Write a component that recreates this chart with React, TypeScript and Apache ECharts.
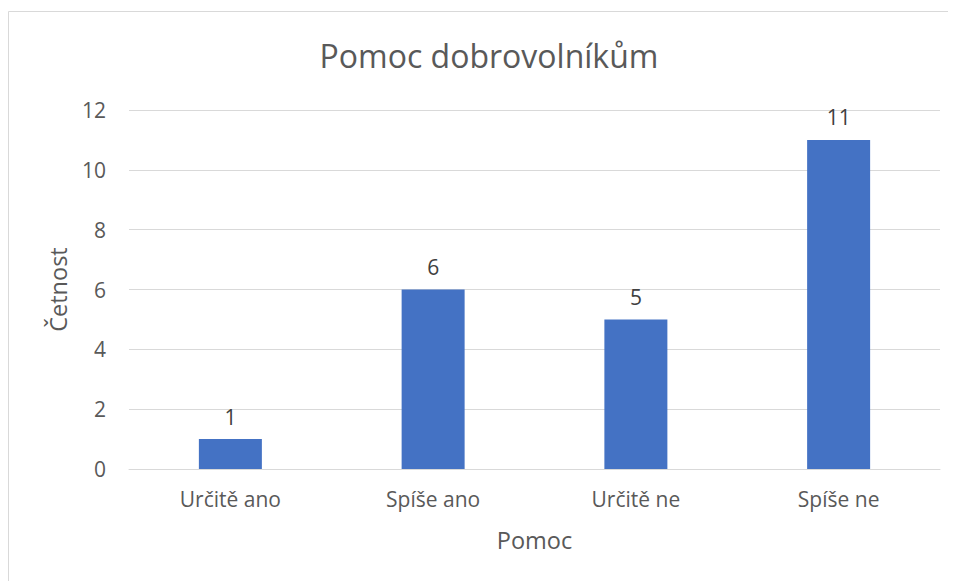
import React, { useEffect, useRef } from "react";
import * as echarts from "echarts";

const categories = ["Určitě ano", "Spíše ano", "Určitě ne", "Spíše ne"];
const values = [1, 6, 5, 11];
const titleText = "Pomoc dobrovolníkům";
const xName = "Pomoc";
const yName = "Četnost";

const FONT = "Open Sans";

export default function App() {
  const ref = useRef<HTMLDivElement>(null);
  useEffect(() => {
    if (!ref.current) return;
    const chart = echarts.init(ref.current, null, { renderer: "svg" });
    chart.setOption({
      animation: false,
      backgroundColor: "#ffffff",
      textStyle: { fontFamily: FONT },
      title: {
        text: titleText,
        left: 476,
        top: 26,
        textAlign: "center",
        textStyle: { fontFamily: FONT, fontSize: 32, fontWeight: "normal", color: "#595959" },
      },
      graphic: [
        {
          type: "rect",
          shape: { x: 0.5, y: 3.5, width: 1200, height: 1200 },
          style: { fill: "none", stroke: "#d9d9d9", lineWidth: 1 },
          silent: true,
        },
      ],
      grid: { left: 121, right: 16, top: 102, bottom: 112, containLabel: false },
      xAxis: {
        type: "category",
        data: categories,
        name: xName,
        nameLocation: "middle",
        nameGap: 59,
        nameTextStyle: { fontFamily: FONT, fontSize: 23.5, color: "#595959" },
        axisLine: { show: true, lineStyle: { color: "#d9d9d9", width: 1 } },
        axisTick: { show: false },
        axisLabel: { fontFamily: FONT, fontSize: 21, color: "#595959", margin: 19 },
      },
      yAxis: {
        type: "value",
        min: 0,
        max: 12,
        interval: 2,
        name: yName,
        nameLocation: "middle",
        nameGap: 59,
        nameTextStyle: { fontFamily: FONT, fontSize: 23.5, color: "#595959" },
        axisLine: { show: false },
        axisTick: { show: false },
        axisLabel: { fontFamily: FONT, fontSize: 21, color: "#595959", margin: 23 },
        splitLine: { lineStyle: { color: "#d9d9d9", width: 1 } },
      },
      series: [
        {
          type: "bar",
          data: values,
          barWidth: 63,
          itemStyle: { color: "#4472C4" },
          label: {
            show: true,
            position: "top",
            distance: 12,
            fontFamily: FONT,
            fontSize: 21,
            color: "#404040",
          },
        },
      ],
    });
    return () => chart.dispose();
  }, []);
  return <div ref={ref} style={{ width: 948, height: 573 }} />;
}
